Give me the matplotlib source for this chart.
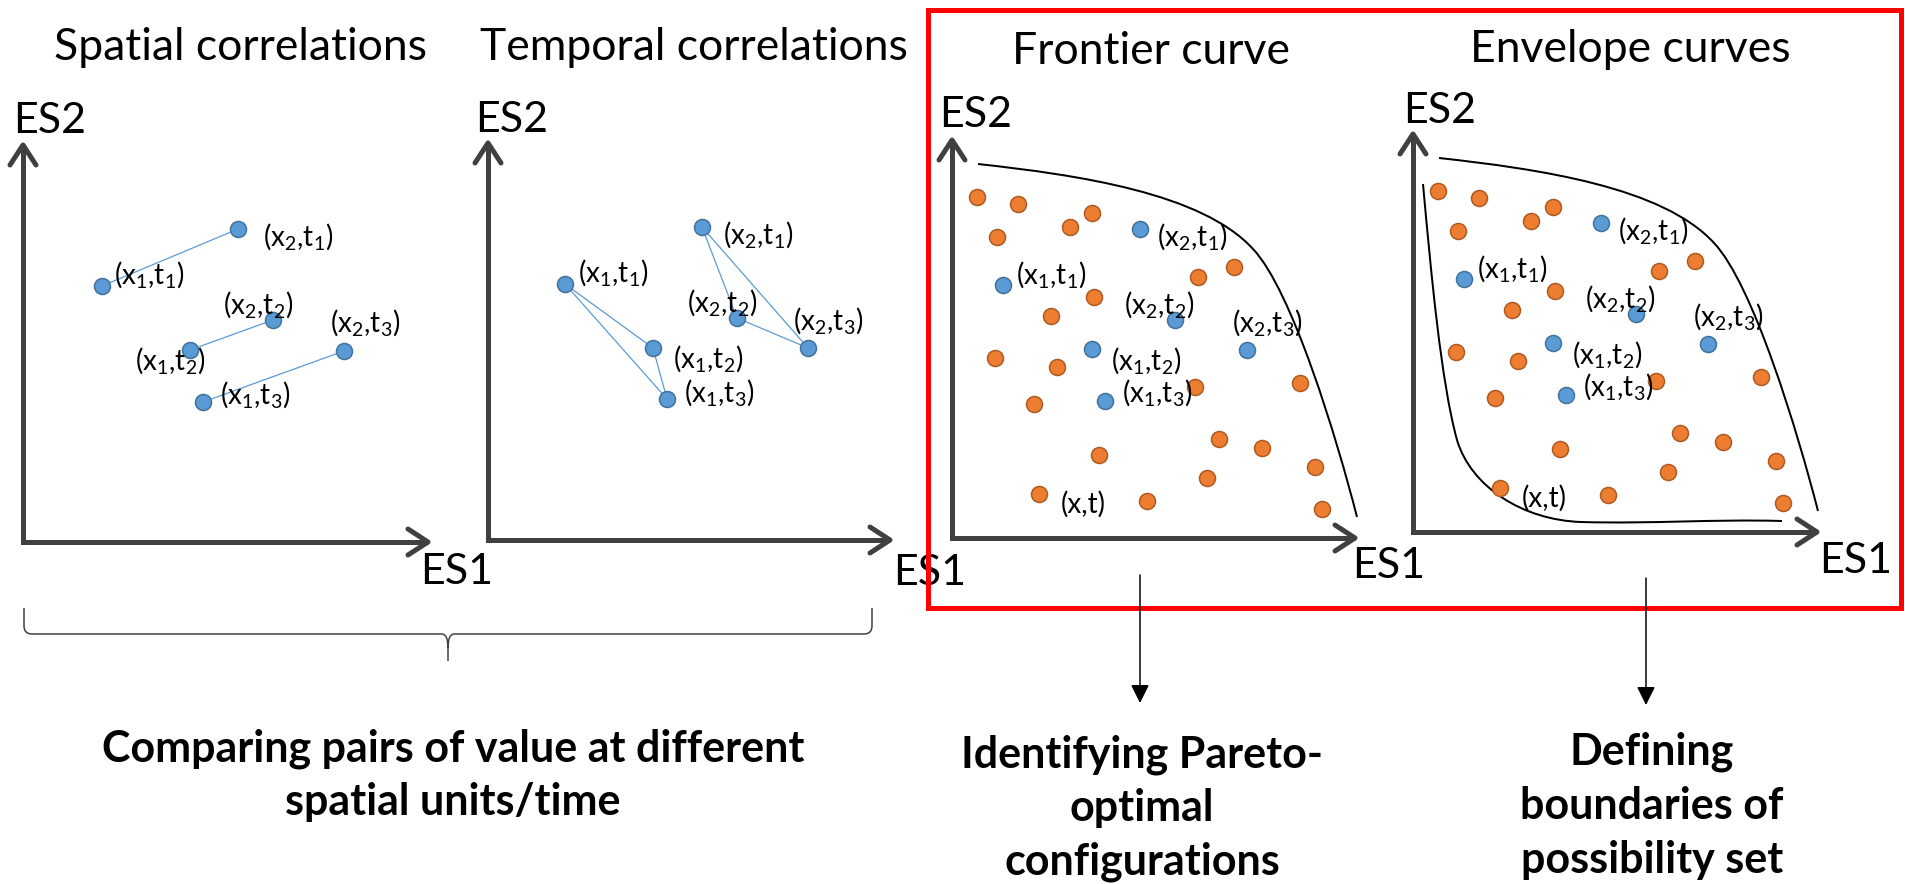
import matplotlib.pyplot as plt
from matplotlib.path import Path
from matplotlib.patches import PathPatch, Rectangle

plt.rcParams['font.family'] = ['Lato', 'DejaVu Sans']
plt.rcParams['mathtext.fontset'] = 'custom'
plt.rcParams['mathtext.rm'] = 'Lato'
plt.rcParams['mathtext.it'] = 'Lato:italic'
plt.rcParams['mathtext.bf'] = 'Lato:bold'

# ---- data (pixel positions) ----
panel_titles = ["Spatial correlations", "Temporal correlations", "Frontier curve", "Envelope curves"]

# point order: (x1,t1), (x2,t1), (x1,t2), (x2,t2), (x1,t3), (x2,t3)
pair_labels = [r"$\mathrm{(x_{1}{,}t_{1})}$", r"$\mathrm{(x_{2}{,}t_{1})}$",
               r"$\mathrm{(x_{1}{,}t_{2})}$", r"$\mathrm{(x_{2}{,}t_{2})}$",
               r"$\mathrm{(x_{1}{,}t_{3})}$", r"$\mathrm{(x_{2}{,}t_{3})}$"]

spatial_x = [102, 238, 190, 273, 203, 344]
spatial_y = [286, 229, 350, 320, 402, 351]
spatial_links = [(0, 1), (2, 3), (4, 5)]
spatial_lab_x = [114, 263, 135, 223, 220, 330]
spatial_lab_y = [274, 237, 361, 304, 395, 323]

temporal_x = [565, 702, 653, 737, 667, 808]
temporal_y = [284, 227, 348, 318, 399, 348]
temporal_links = [(0, 2), (2, 4), (0, 4), (1, 3), (3, 5), (1, 5)]
temporal_lab_x = [578, 723, 673, 687, 684, 793]
temporal_lab_y = [273, 234, 359, 302, 393, 321]

# frontier / envelope panels: offsets from the axis origin (x right, y up)
blue_rx = [51, 188, 140, 223, 153, 295]
blue_ry = [253, 309, 189, 218, 137, 188]
blue_lab_rx = [64, 205, 159, 172, 170, 280]
blue_lab_ry = [264, 301, 178, 234, 145, 215]
orange_rx = [25, 66, 140, 118, 45, 282, 246, 142, 99, 43, 105, 243, 348, 82, 267, 310, 147, 363, 255, 87, 195, 370]
orange_ry = [341, 334, 325, 311, 301, 271, 261, 241, 222, 180, 171, 151, 155, 134, 99, 90, 83, 71, 60, 44, 37, 29]
xt_label = "(x,t)"
xt_pos = (109, 34)

# bezier control points (relative to origin)
outer_curve = [(26, 374), (126, 363), (250, 345), (301, 289),
               (340, 248), (385, 99), (405, 21)]
inner_curve = [(10, 348), (18, 260), (28, 150), (44, 92),
               (58, 45), (110, 12), (168, 10),
               (240, 8), (300, 13), (369, 11)]

bottom_texts = ["Comparing pairs of value at different\nspatial units/time",
                "Identifying Pareto-\noptimal\nconfigurations",
                "Defining\nboundaries of\npossibility set"]

# ---- layout ----
origins = [(23, 542), (488, 540), (952, 538), (1413, 532)]
y_tops = [145, 143, 140, 134]
x_tips = [428, 890, 1355, 1817]
title_pos = [(241, 48), (694, 48), (1151, 52), (1630, 50)]
es2_pos = [(13, 121), (475, 120), (939, 115), (1403, 111)]
es1_pos = [(420, 572), (893, 573), (1352, 566), (1819, 561)]

AXIS_C = "#404040"
BLUE, BLUE_E = "#5B9BD5", "#41719C"
ORANGE, ORANGE_E = "#ED7D31", "#AE5A21"
PX = 0.72  # points per pixel

fig = plt.figure(figsize=(19.05, 8.84), dpi=100)
ax = fig.add_axes([0, 0, 1, 1])
ax.set_xlim(0, 1905)
ax.set_ylim(884, 0)
ax.axis('off')


def draw_axes(o, ytop, xtip):
    ox, oy = o
    lw = 5 * PX
    ax.plot([ox, ox, xtip], [ytop, oy, oy], color=AXIS_C, lw=lw, solid_joinstyle='miter', solid_capstyle='butt')
    ax.plot([ox - 13, ox, ox + 13], [ytop + 20, ytop, ytop + 20], color=AXIS_C, lw=lw, solid_capstyle='round')
    ax.plot([xtip - 20, xtip, xtip - 20], [oy - 13, oy, oy + 13], color=AXIS_C, lw=lw, solid_capstyle='round')


def dots(xs, ys, fc, ec):
    ax.scatter(xs, ys, s=(16 * PX) ** 2, c=fc, edgecolors=ec, linewidths=1.1, zorder=3)


for i in range(4):
    draw_axes(origins[i], y_tops[i], x_tips[i])
    ax.text(title_pos[i][0], title_pos[i][1], panel_titles[i], fontsize=32, ha='center', va='center')
    ax.text(es2_pos[i][0], es2_pos[i][1], "ES2", fontsize=31, ha='left', va='center')
    ax.text(es1_pos[i][0], es1_pos[i][1], "ES1", fontsize=31, ha='left', va='center')

# spatial panel
for a, b in spatial_links:
    ax.plot([spatial_x[a], spatial_x[b]], [spatial_y[a], spatial_y[b]], color=BLUE, lw=0.9, zorder=2)
dots(spatial_x, spatial_y, BLUE, BLUE_E)
for i, lab in enumerate(pair_labels):
    ax.text(spatial_lab_x[i], spatial_lab_y[i], lab, fontsize=20, ha='left', va='center', zorder=4)

# temporal panel
for a, b in temporal_links:
    ax.plot([temporal_x[a], temporal_x[b]], [temporal_y[a], temporal_y[b]], color=BLUE, lw=0.9, zorder=2)
dots(temporal_x, temporal_y, BLUE, BLUE_E)
for i, lab in enumerate(pair_labels):
    ax.text(temporal_lab_x[i], temporal_lab_y[i], lab, fontsize=20, ha='left', va='center', zorder=4)


def curve_path(o, pts):
    ox, oy = o
    verts = [(ox + x, oy - y) for x, y in pts]
    codes = [Path.MOVETO] + [Path.CURVE4] * (len(pts) - 1)
    return PathPatch(Path(verts, codes), fill=False, lw=2 * PX, ec='black', zorder=2)


# frontier and envelope panels
for k in (2, 3):
    ox, oy = origins[k]
    dots([ox + x for x in orange_rx], [oy - y for y in orange_ry], ORANGE, ORANGE_E)
    dots([ox + x for x in blue_rx], [oy - y for y in blue_ry], BLUE, BLUE_E)
    for i, lab in enumerate(pair_labels):
        ax.text(ox + blue_lab_rx[i], oy - blue_lab_ry[i], lab, fontsize=20, ha='left', va='center', zorder=4)
    ax.text(ox + xt_pos[0], oy - xt_pos[1], xt_label, fontsize=20, ha='left', va='center', zorder=4)
    ax.add_patch(curve_path(origins[k], outer_curve))
ax.add_patch(curve_path(origins[3], inner_curve))

# red frame
ax.add_patch(Rectangle((928, 10), 1901 - 928, 608 - 10, fill=False, ec='#FF0000', lw=5 * PX, zorder=5))

# brace under the first two panels
left, right, mid, top, bar, tip = 24, 872, 448, 608, 634, 661
bverts = [(left, top), (left, bar - 8), (left, bar), (left + 8, bar), (mid - 6, bar), (mid, bar), (mid, bar + 14),
          (mid, tip), (mid, bar + 14), (mid, bar), (mid + 6, bar), (right - 8, bar), (right, bar), (right, bar - 8),
          (right, top)]
bcodes = [Path.MOVETO, Path.LINETO, Path.CURVE3, Path.CURVE3, Path.LINETO, Path.CURVE3, Path.CURVE3,
          Path.LINETO, Path.MOVETO, Path.CURVE3, Path.CURVE3, Path.LINETO, Path.CURVE3, Path.CURVE3, Path.LINETO]
ax.add_patch(PathPatch(Path(bverts, bcodes), fill=False, ec=AXIS_C, lw=1.5 * PX))

# down arrows
for x0, y0, y1 in [(1140, 575, 703), (1646, 578, 705)]:
    ax.annotate('', xy=(x0, y1), xytext=(x0, y0),
                arrowprops=dict(arrowstyle='-|>', color='black', lw=1.5 * PX, mutation_scale=28,
                                shrinkA=0, shrinkB=0), zorder=6)

# bottom captions
ax.text(453, 775, bottom_texts[0], fontsize=31, fontweight='bold', ha='center', va='center', linespacing=1.38)
ax.text(1142, 808, bottom_texts[1], fontsize=31, fontweight='bold', ha='center', va='center', linespacing=1.4)
ax.text(1652, 806, bottom_texts[2], fontsize=31, fontweight='bold', ha='center', va='center', linespacing=1.42)

fig.savefig("out.png", dpi=100)
